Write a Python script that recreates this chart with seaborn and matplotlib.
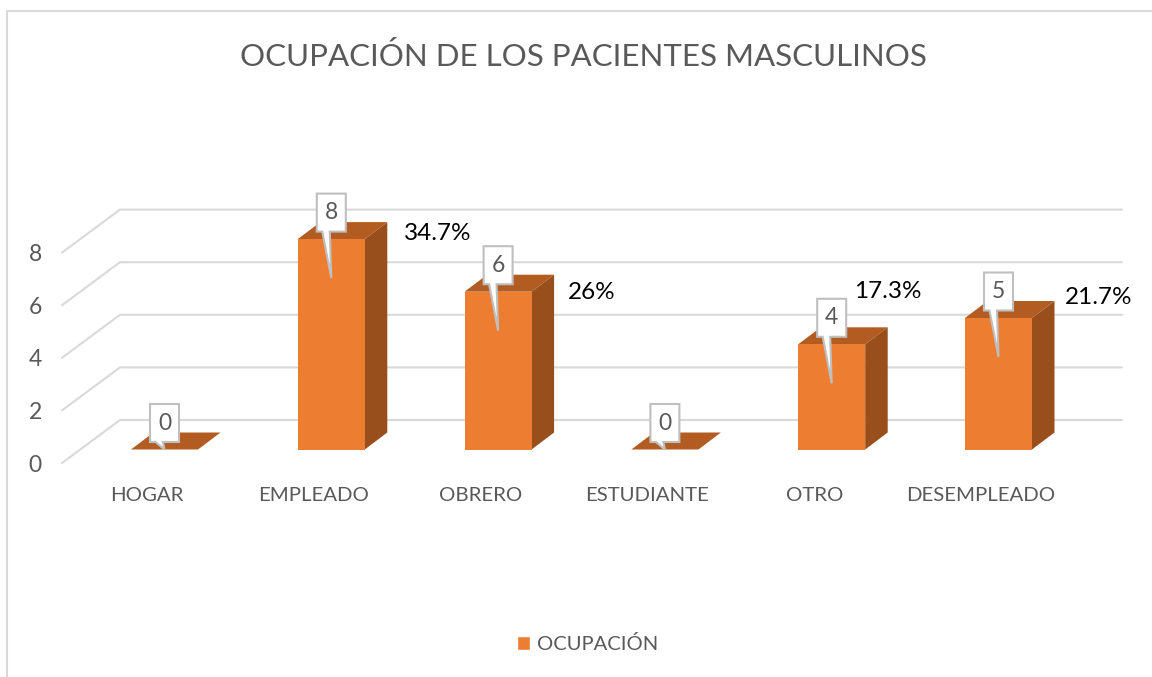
import matplotlib
matplotlib.use("Agg")
import matplotlib.pyplot as plt
from matplotlib.lines import Line2D
from matplotlib.patches import Polygon, Patch
import pandas as pd
import seaborn as sns

# ---- data ----
categories = ["HOGAR", "EMPLEADO", "OBRERO", "ESTUDIANTE", "OTRO", "DESEMPLEADO"]
values = [0, 8, 6, 0, 4, 5]
percent_labels = ["", "34.7%", "26%", "", "17.3%", "21.7%"]
percent_offsets_px = [None, (106, 6), (93.5, -1), None, (56, 52.6), (100, 21)]
y_ticks = [0, 2, 4, 6, 8]
title = "OCUPACIÓN DE LOS PACIENTES MASCULINOS"
series_name = "OCUPACIÓN"

# ---- styling / layout (pixels of the 1152x677 canvas) ----
W, H = 1152, 677
CAT_PX, UNIT_PX = 166.8, 26.3
X0_PX, BASE_PX = 164.5, 449.5
AX_L, AX_R, AX_B, AX_T = 62, 1122, 463, 190
DEPTH_X, DEPTH_Y = 22.5 / CAT_PX, 17 / UNIT_PX
WALL_DROP = (AX_B - BASE_PX) / UNIT_PX
WALL_RISE = (BASE_PX - 420) / UNIT_PX
BAR_W = 67 / CAT_PX
px_x, px_y = 1 / CAT_PX, 1 / UNIT_PX
FRONT, TOP, SIDE = "#ED7D31", "#B35C22", "#984F1C"
GREY, GRID, BOX = "#595959", "#D9D9D9", "#BFBFBF"
FONT = "Lato"

sns.set_theme(style="white")
plt.rcParams["font.family"] = [FONT, "DejaVu Sans"]

df = pd.DataFrame({"cat": categories, "val": values})
fig = plt.figure(figsize=(W / 100, H / 100), dpi=100, facecolor="white")
ax = fig.add_axes([AX_L / W, 1 - AX_B / H, (AX_R - AX_L) / W, (AX_B - AX_T) / H])
sns.barplot(data=df, x="cat", y="val", color=FRONT, saturation=1, width=BAR_W,
            ax=ax, zorder=4, linewidth=0, legend=False)

ax.set_xlim((AX_L - X0_PX) / CAT_PX, (AX_R - X0_PX) / CAT_PX)
ax.set_ylim(-WALL_DROP, (BASE_PX - AX_T) / UNIT_PX)
ax.set_xlabel("")
ax.set_ylabel("")
for s in ax.spines.values():
    s.set_visible(False)
ax.patch.set_alpha(0)

# axis labels
ax.set_xticks([i - 17.5 * px_x for i in range(len(categories))], categories)
ax.set_yticks([v - WALL_DROP for v in y_ticks], [str(v) for v in y_ticks])
ax.tick_params(axis="x", length=0, pad=17, labelsize=14.7, labelcolor=GREY)
ax.tick_params(axis="y", length=0, pad=14.5, labelsize=16.5, labelcolor=GREY)

# back-wall gridlines and left wall
x_wall_back = ax.get_xlim()[0] + 58 * px_x
for v in y_ticks:
    ax.plot([ax.get_xlim()[0], x_wall_back, ax.get_xlim()[1]],
            [v - WALL_DROP, v + WALL_RISE, v + WALL_RISE],
            color=GRID, lw=1.5, zorder=1, clip_on=False, solid_joinstyle="miter")

# 3D faces, callouts and percentages
for i, v in enumerate(values):
    l, r = i - BAR_W / 2, i + BAR_W / 2
    ax.add_patch(Polygon([(l, v), (l + DEPTH_X, v + DEPTH_Y), (r + DEPTH_X, v + DEPTH_Y), (r, v)],
                         closed=True, fc=TOP, ec="none", zorder=3))
    if v > 0:
        ax.add_patch(Polygon([(r, 0), (r + DEPTH_X, DEPTH_Y), (r + DEPTH_X, v + DEPTH_Y), (r, v)],
                             closed=True, fc=SIDE, ec="none", zorder=3))
    # callout box with pointer
    bl, br = i - 14.5 * px_x, i + 14.5 * px_x
    bb, bt = v + 7.5 * px_y, v + 45.5 * px_y
    tip_y = max(v - 39 * px_y, 0)
    ax.add_patch(Polygon([(bl, bb), (bl, bt), (br, bt), (br, bb),
                          (bl + 13 * px_x, bb), (i, tip_y), (bl + 5.5 * px_x, bb)],
                         closed=True, fc="white", ec=BOX, lw=1.5, zorder=5,
                         joinstyle="miter", clip_on=False))
    ax.text(i, (bb + bt) / 2, str(v), ha="center", va="center", color=GREY,
            fontsize=16.5, zorder=6)
    if percent_labels[i]:
        ax.annotate(percent_labels[i], xy=(i, v), xytext=percent_offsets_px[i],
                    textcoords="offset pixels", ha="center", va="center",
                    color="black", fontsize=17.5, zorder=6, annotation_clip=False)

# title
fig.text(583 / W, 1 - 56 / H, title, ha="center", va="center", color=GREY, fontsize=22.5)

# legend
fig.legend([Patch(fc=FRONT)], [series_name], loc="center", bbox_to_anchor=(587.5 / W, 1 - 644 / H),
           frameon=False, fontsize=14.5, labelcolor=GREY, handlelength=0.65, handleheight=0.65,
           handletextpad=0.35, borderpad=0)

# chart-area border
fig.add_artist(Line2D([7 / W, 7 / W, 1], [0, 1 - 11 / H, 1 - 11 / H], color=GRID, lw=1.5))

fig.savefig("out.png", dpi=100)
